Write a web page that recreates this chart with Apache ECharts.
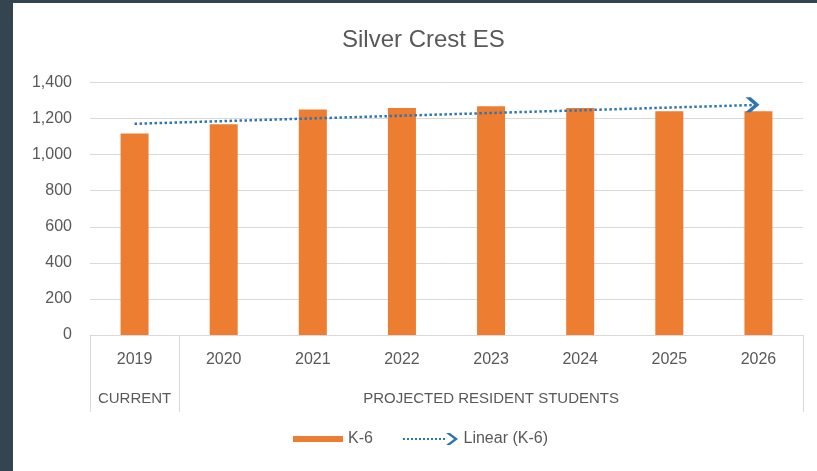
<!DOCTYPE html>
<html>
<head>
<meta charset="utf-8">
<script src="https://cdn.jsdelivr.net/npm/echarts@6/dist/echarts.min.js"></script>
<style>
    html, body {
        margin: 0;
        padding: 0;
        width: 817px;
        height: 471px;
        background: #35454f;
        overflow: hidden;
    }
    #chart {
        position: absolute;
        left: 13px;
        top: 3px;
        width: 804px;
        height: 468px;
        background: #fff;
    }
</style>
</head>
<body>
<div id="chart"></div>
<script>
// data
const years = ['2019', '2020', '2021', '2022', '2023', '2024', '2025', '2026']
const groups = ['CURRENT', 'PROJECTED RESIDENT STUDENTS']
const groupSpans = [1, 7]
const k6 = [1117, 1168, 1250, 1259, 1268, 1259, 1240, 1240]
// end points of the linear trend line (first and last year)
const trendEnds = [1171, 1276]
const yTicks = [0, 200, 400, 600, 800, 1000, 1200, 1400]

const FONT = '"Liberation Sans", Arial, sans-serif'
const TEXT = '#595959'
const ORANGE = '#ED7D31'
const BLUE = '#2E75B6'
const GRIDC = '#d9d9d9'

// second row of the category axis: label sits in the middle of its span
const groupRow = years.map(() => '')
let start = 0
groups.forEach((g, i) => {
    groupRow[start + Math.floor(groupSpans[i] / 2)] = g
    start += groupSpans[i]
})

// trend series: only both ends are known, the line joins them
const trendData = years.map(() => null)
trendData[0] = { value: trendEnds[0], symbol: 'none' }
trendData[years.length - 1] = { value: trendEnds[1] }

const arrowPath = 'path://M0,0 L5,0 L13,7 L5,14 L0,14 L8,7 Z'

// legend icon for the trend: dotted line plus arrow
let dots = ''
for (let x = 0; x < 42; x += 4) {
    dots += 'M' + x + ',5 L' + (x + 2) + ',5 L' + (x + 2) + ',7 L' + x + ',7 Z '
}
const trendIcon = 'path://M0,0 ' + dots + 'M43,0 L47,0 L55,6 L47,12 L43,12 L51,6 Z'

const chart = echarts.init(document.getElementById('chart'))
chart.setOption({
    animation: false,
    textStyle: { fontFamily: FONT },
    title: {
        text: 'Silver Crest ES',
        left: 324,
        top: 20,
        textStyle: {
            fontFamily: FONT,
            fontSize: 24,
            fontWeight: 'normal',
            color: TEXT
        }
    },
    legend: [
        {
            data: ['K-6'],
            left: 275,
            top: 423,
            itemWidth: 50,
            itemHeight: 6,
            icon: 'rect',
            itemGap: 0,
            textStyle: { fontFamily: FONT, fontSize: 16, color: TEXT }
        },
        {
            data: [{ name: 'Linear (K-6)', icon: trendIcon }],
            left: 385,
            top: 423,
            itemWidth: 56,
            itemHeight: 12,
            itemStyle: { color: BLUE },
            textStyle: { fontFamily: FONT, fontSize: 16, color: TEXT }
        }
    ],
    grid: {
        left: 77,
        right: 14,
        top: 79.5,
        bottom: 136
    },
    xAxis: [
        {
            type: 'category',
            data: years,
            axisLine: { lineStyle: { color: GRIDC, width: 1 } },
            axisTick: {
                show: true,
                length: 77,
                interval: (index) => index <= 1,
                lineStyle: { color: GRIDC }
            },
            axisLabel: {
                interval: 0,
                margin: 17,
                fontFamily: FONT,
                fontSize: 16,
                color: TEXT
            }
        },
        {
            type: 'category',
            data: groupRow,
            position: 'bottom',
            axisLine: { show: false },
            axisTick: { show: false },
            axisLabel: {
                interval: 0,
                margin: 56,
                fontFamily: FONT,
                fontSize: 15,
                color: TEXT
            }
        }
    ],
    yAxis: {
        type: 'value',
        min: yTicks[0],
        max: yTicks[yTicks.length - 1],
        interval: yTicks[1] - yTicks[0],
        axisLine: { show: false },
        axisTick: { show: false },
        splitLine: { lineStyle: { color: GRIDC } },
        axisLabel: {
            margin: 18,
            fontFamily: FONT,
            fontSize: 16,
            color: TEXT,
            formatter: (v) => v.toLocaleString('en-US')
        }
    },
    series: [
        {
            name: 'K-6',
            type: 'bar',
            data: k6,
            barWidth: 28,
            itemStyle: { color: ORANGE }
        },
        {
            name: 'Linear (K-6)',
            type: 'line',
            data: trendData,
            connectNulls: true,
            symbol: arrowPath,
            symbolSize: [14, 15],
            symbolOffset: [-6, 0],
            itemStyle: { color: BLUE },
            lineStyle: { color: BLUE, width: 2.5, type: [2.5, 2.5] },
            z: 3
        }
    ]
})
</script>
</body>
</html>
